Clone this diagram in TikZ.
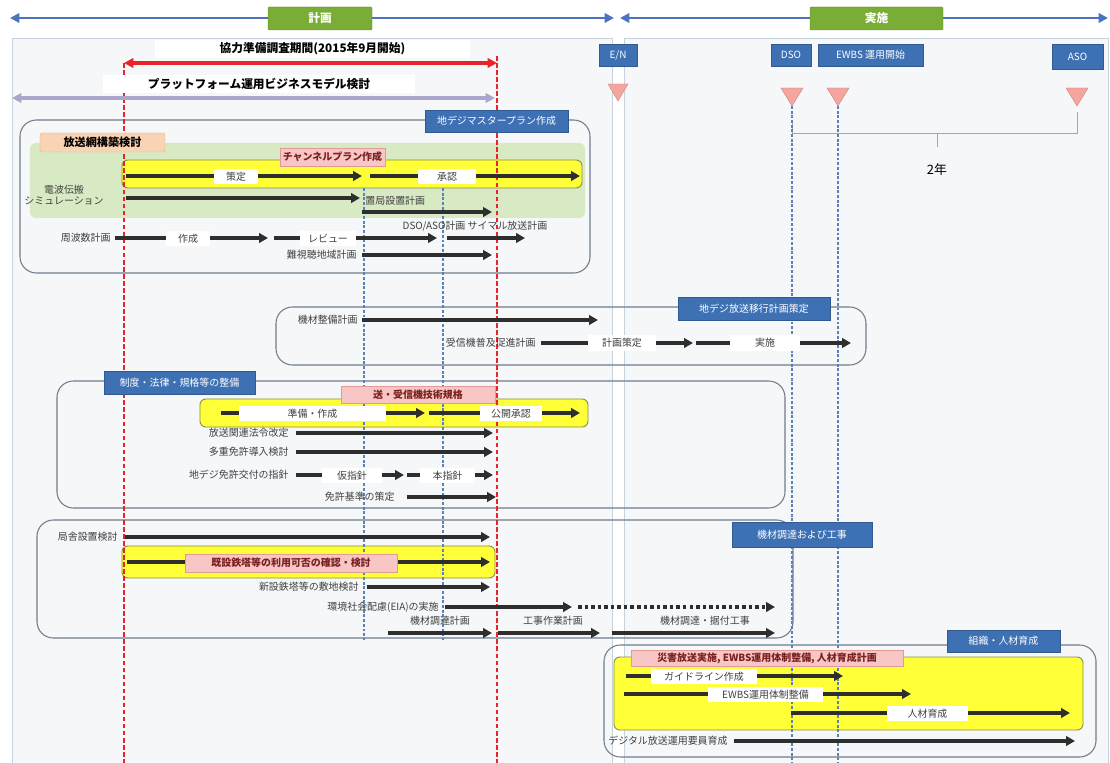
\documentclass[tikz,border=0pt]{standalone}
\usepackage{fontspec}
\setmainfont{Noto Sans CJK JP}
\usetikzlibrary{arrows.meta}
\definecolor{pnlfill}{HTML}{F5F7F9}
\definecolor{pnldraw}{HTML}{C8D2DC}
\definecolor{grpdraw}{HTML}{6E7D8C}
\definecolor{bluelab}{HTML}{3E70B4}
\definecolor{grnc}{HTML}{79AD35}
\definecolor{topblue}{HTML}{4A74BE}
\definecolor{yel}{HTML}{FFFF38}
\definecolor{yeldraw}{HTML}{8C8C40}
\definecolor{pinkf}{HTML}{F8C6C4}
\definecolor{pinkd}{HTML}{E39A96}
\definecolor{pinkt}{HTML}{7A2020}
\definecolor{orgf}{HTML}{FAD2B4}
\definecolor{orgd}{HTML}{EFB488}
\definecolor{bandc}{HTML}{D8EAC4}
\definecolor{tric}{HTML}{F3A59E}
\definecolor{arrc}{HTML}{2E2E2E}
\definecolor{txtc}{HTML}{404040}
\definecolor{redc}{HTML}{E8232A}
\definecolor{purp}{HTML}{ABA5CC}
\definecolor{dashb}{HTML}{5A82B8}
\newcommand\bnode[7]{\node[#1, minimum width={(#5-#3)*0.853583pt}, minimum height={(#6-#4)*0.853583pt}] (#2) at ({(#3+#5)/2},{(#4+#6)/2}) {#7};}
\newcommand\harr[5][]{\coordinate (#2s) at (#3,#5); \coordinate (#2e) at (#4,#5); \draw[arr,#1] (#2s) -- (#2e);}
\begin{document}
\begin{tikzpicture}[x=0.03cm,y=-0.03cm,
  pnl/.style={draw=pnldraw, fill=pnlfill, line width=0.8pt, inner sep=0pt},
  grp/.style={draw=grpdraw, line width=0.9pt, rounded corners=14pt, inner sep=0pt},
  blu/.style={fill=bluelab, draw=bluelab!80!black, text=white, font=\fontsize{8.5}{10}\selectfont, inner sep=0pt},
  gbox/.style={fill=grnc, draw=grnc!80!black, text=white, font=\bfseries\fontsize{10}{12}\selectfont, inner sep=0pt, rounded corners=1pt},
  ybox/.style={fill=yel, draw=yeldraw, line width=0.8pt, rounded corners=5pt, inner sep=0pt},
  pbox/.style={fill=pinkf, draw=pinkd, text=pinkt, font=\bfseries\fontsize{8.5}{10}\selectfont, inner sep=0pt},
  obox/.style={fill=orgf, draw=orgd, text=black, font=\bfseries\fontsize{9.5}{11}\selectfont, inner sep=0pt, rounded corners=2pt},
  bandbox/.style={fill=bandc, draw=none, rounded corners=5pt, inner sep=0pt},
  wlab/.style={fill=white, text=txtc, font=\fontsize{8.5}{10}\selectfont, inner sep=0pt},
  wbold/.style={fill=white, text=black, font=\bfseries\fontsize{10}{12}\selectfont, inner sep=0pt},
  txt/.style={text=txtc, font=\fontsize{8.5}{10}\selectfont, inner sep=1pt},
  arr/.style={draw=arrc, line width=3pt, -{Triangle[length=7.5pt,width=8pt]}},
  dotarr/.style={draw=arrc, line width=3pt, dash pattern=on 3pt off 2.6pt, -{Triangle[length=7.5pt,width=8pt]}},
  toparr/.style={draw=topblue, line width=2.2pt, {Triangle[length=8pt,width=8pt]}-{Triangle[length=8pt,width=8pt]}},
  redarr/.style={draw=redc, line width=3pt, {Triangle[length=8pt,width=8pt]}-{Triangle[length=8pt,width=8pt]}},
  purarr/.style={draw=purp, line width=3pt, {Triangle[length=8pt,width=8pt]}-{Triangle[length=8pt,width=8pt]}},
  reddash/.style={draw=redc, line width=1.1pt, dash pattern=on 4pt off 2pt},
  bluedash/.style={draw=dashb, line width=0.9pt, dash pattern=on 2.5pt off 1.5pt},
  brk/.style={draw=gray!70, line width=0.8pt},
  trif/.style={fill=tric, draw=tric!85!black, line width=0.4pt}
]
\fill[white] (0,0) rectangle (1110,763);
\useasboundingbox (0,0) rectangle (1110,763);

% panels
\bnode{pnl}{pl}{12}{38}{612}{763}{}
\bnode{pnl}{pr}{624}{38}{1108}{763}{}

% top arrows
\coordinate (tla) at (10,18); \coordinate (tlb) at (614,18);
\coordinate (tra) at (620,18); \coordinate (trb) at (1108,18);
\draw[toparr] (tla) -- (tlb);
\draw[toparr] (tra) -- (trb);
\bnode{gbox}{g1}{268}{7}{372}{30}{計画}
\bnode{gbox}{g2}{810}{7}{943}{30}{実施}

% milestone triangles
\fill[trif] (608,84) -- (628,84) -- (618,101) -- cycle;
\fill[trif] (781,88) -- (803,88) -- (792,106) -- cycle;
\fill[trif] (827,88) -- (849,88) -- (838,106) -- cycle;
\fill[trif] (1066,88) -- (1088,88) -- (1077,106) -- cycle;
\coordinate (tdso) at (792,106); \coordinate (tdsob) at (792,763);
\coordinate (tew) at (838,106); \coordinate (tewb) at (838,763);

% 2 years bracket
\coordinate (b1) at (792,121); \coordinate (b2) at (792,133);
\coordinate (b3) at (1077,133); \coordinate (b4) at (1077,112);
\coordinate (bm) at (937,133); \coordinate (bt) at (937,147);
\draw[brk] (b1) -- (b2) -- (b3) -- (b4);
\draw[brk] (bm) -- (bt);
\node[font=\fontsize{11}{13}\selectfont, text=black] (two) at (937,170) {2年};

% group boxes and fills
\bnode{grp}{G1}{20}{120}{590}{273}{}
\bnode{bandbox}{band}{30}{143}{585}{218}{}
\bnode{ybox}{Y1}{122}{160}{582}{188}{}
\bnode{grp}{G2}{276}{307}{866}{365}{}
\bnode{grp}{G3}{57}{381}{785}{508}{}
\bnode{ybox}{Y3}{200}{399}{588}{427}{}
\bnode{grp}{G4}{37}{520}{793}{638}{}
\bnode{ybox}{Y4}{122}{546}{495}{578}{}
\bnode{grp}{G5}{604}{645}{1096}{757}{}
\bnode{ybox}{Y5}{614}{657}{1083}{730}{}

% vertical dashed lines
\coordinate (r1a) at (124,63); \coordinate (r1b) at (124,763);
\coordinate (r2a) at (497,56); \coordinate (r2b) at (497,763);
\draw[reddash] (r1a) -- (r1b);
\draw[reddash] (r2a) -- (r2b);
\coordinate (d1a) at (364,188); \coordinate (d1b) at (364,640);
\coordinate (d2a) at (443,188); \coordinate (d2b) at (443,640);
\draw[bluedash] (d1a) -- (d1b);
\draw[bluedash] (d2a) -- (d2b);
\draw[bluedash] (tdso) -- (tdsob);
\draw[bluedash] (tew) -- (tewb);

% top period arrows
\bnode{wbold}{coop}{155}{40}{470}{58}{協力準備調査期間(2015年9月開始)}
\harr[redarr]{ra}{124}{497}{63}
\bnode{wbold}{plat}{103}{75}{415}{93}{プラットフォーム運用ビジネスモデル検討}
\harr[purarr]{pa}{12}{495}{98}

% ===== Group 1
\harr{a11}{126}{362}{176}
\bnode{wlab}{l11}{214}{169}{258}{184}{策定}
\harr{a12}{370}{580}{176}
\bnode{wlab}{l12}{418}{169}{476}{184}{承認}
\node[txt, align=center] (sim) at (64,195) {電波伝搬\\シミュレーション};
\harr{a13}{126}{360}{198}
\node[txt, anchor=west] (chi) at (364,201) {置局設置計画};
\harr{a14}{362}{492}{212}
\node[txt, anchor=east] (frq) at (112,238) {周波数計画};
\harr{a15}{115}{268}{238}
\bnode{wlab}{l15}{166}{231}{210}{246}{作成}
\harr{a16}{274}{437}{238}
\bnode{wlab}{l16}{300}{231}{356}{246}{レビュー}
\harr{a17}{447}{525}{238}
\node[txt] (dso2) at (475,226) {DSO/ASO計画 サイマル放送計画};
\node[txt, anchor=east] (nan) at (358,255) {難視聴地域計画};
\harr{a18}{362}{492}{255}

% ===== Group 2
\node[txt, anchor=east] (kiz) at (359,320) {機材整備計画};
\harr{a21}{362}{598}{320}
\node[txt, anchor=east] (jus) at (537,343) {受信機普及促進計画};
\harr{a22}{541}{693}{343}
\bnode{wlab}{l22}{588}{335}{656}{351}{計画策定}
\harr{a23}{696}{851}{343}
\bnode{wlab}{l23}{730}{335}{800}{351}{実施}

% ===== Group 3
\harr{a31}{221}{425}{413}
\bnode{wlab}{l31}{239}{406}{386}{421}{準備・作成}
\harr{a32}{429}{580}{413}
\bnode{wlab}{l32}{480}{406}{542}{421}{公開承認}
\node[txt, anchor=east] (hou) at (290,433) {放送関連法令改定};
\harr{a33}{296}{493}{433}
\node[txt, anchor=east] (taj) at (290,452) {多重免許導入検討};
\harr{a34}{296}{493}{452}
\node[txt, anchor=east] (shi) at (290,475) {地デジ免許交付の指針};
\harr{a35}{296}{404}{475}
\bnode{wlab}{l35}{322}{468}{382}{483}{仮指針}
\harr{a36}{407}{493}{475}
\bnode{wlab}{l36}{420}{468}{475}{483}{本指針}
\node[txt, anchor=east] (men) at (396,497) {免許基準の策定};
\harr{a37}{407}{496}{497}

% ===== Group 4
\node[txt, anchor=east] (kyo) at (119,537) {局舎設置検討};
\harr{a41}{125}{490}{537}
\harr{a42}{127}{490}{562}
\node[txt, anchor=east] (shin) at (360,587) {新設鉄塔等の敷地検討};
\harr{a43}{367}{490}{587}
\node[txt, anchor=east] (eia) at (440,607) {環境社会配慮(EIA)の実施};
\harr{a44}{445}{572}{607}
\harr[dotarr]{a45}{578}{775}{607}
\node[txt] (kzc) at (440,621) {機材調達計画};
\harr{a46}{388}{492}{633}
\node[txt] (koj) at (553,621) {工事作業計画};
\harr{a47}{498}{600}{633}
\node[txt] (sue) at (705,621) {機材調達・据付工事};
\harr{a48}{612}{775}{633}

% ===== Group 5
\harr{a51}{626}{843}{676}
\bnode{wlab}{l51}{651}{669}{757}{684}{ガイドライン作成}
\harr{a52}{624}{911}{694}
\bnode{wlab}{l52}{708}{687}{823}{702}{EWBS運用体制整備}
\harr{a53}{791}{1070}{713}
\bnode{wlab}{l53}{887}{706}{968}{721}{人材育成}
\node[txt, anchor=east] (dig) at (729,741) {デジタル放送運用要員育成};
\harr{a54}{734}{1075}{741}

% ===== labels on top
\bnode{blu}{en}{599}{44}{637}{66}{E/N}
\bnode{blu}{dso}{771}{44}{811}{66}{DSO}
\bnode{blu}{ewbs}{818}{44}{923}{66}{EWBS 運用開始}
\bnode{blu}{aso}{1052}{44}{1103}{69}{ASO}
\bnode{blu}{m1}{425}{110}{568}{132}{地デジマスタープラン作成}
\bnode{obox}{o1}{40}{133}{165}{152}{放送網構築検討}
\bnode{pbox}{p1}{280}{148}{385}{166}{チャンネルプラン作成}
\bnode{blu}{m2}{678}{297}{830}{320}{地デジ放送移行計画策定}
\bnode{blu}{m3}{104}{371}{255}{394}{制度・法律・規格等の整備}
\bnode{pbox}{p3}{341}{386}{495}{403}{送・受信機技術規格}
\bnode{blu}{m4}{732}{522}{872}{547}{機材調達および工事}
\bnode{pbox}{p4}{185}{554}{397}{572}{既設鉄塔等の利用可否の確認・検討}
\bnode{blu}{m5}{947}{630}{1060}{652}{組織・人材育成}
\bnode{pbox}{p5}{631}{650}{903}{666}{災害放送実施, EWBS運用体制整備, 人材育成計画}
\end{tikzpicture}
\end{document}
